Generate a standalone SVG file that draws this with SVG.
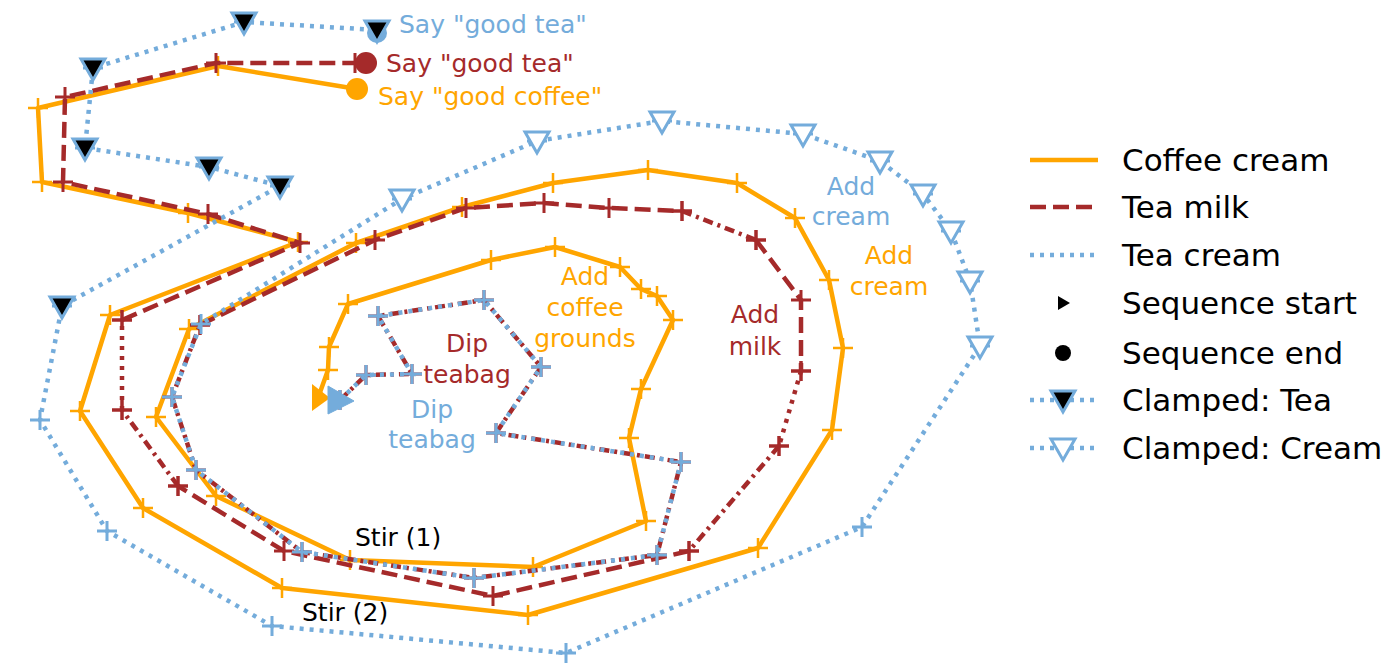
<svg xmlns="http://www.w3.org/2000/svg" width="1400" height="672" viewBox="0 0 1400 672">
<style>
text{font-family:"DejaVu Sans",sans-serif;font-size:25px}
.lg{font-size:31px;fill:#000}
.cof{fill:none;stroke:#FFA500;stroke-width:4.5;stroke-linejoin:round}
.tm{fill:none;stroke:#A52A2A;stroke-width:4.5}
.tc{fill:none;stroke:#74ACDB;stroke-width:4.5;stroke-dasharray:4 6}
.dash{stroke-dasharray:16 7}
.dot{stroke-dasharray:4 6}
.dd{stroke-dasharray:10 5 3 5}
.o{fill:#FFA500}.r{fill:#A52A2A}.b{fill:#74ACDB}
</style>
<defs>
<marker id="po" markerUnits="userSpaceOnUse" markerWidth="24" markerHeight="24" refX="12" refY="12" overflow="visible"><path d="M2,12H22M12,2V22" stroke="#FFA500" stroke-width="2.5"/></marker>
<marker id="pr" markerUnits="userSpaceOnUse" markerWidth="24" markerHeight="24" refX="12" refY="12" overflow="visible"><path d="M2,12H22M12,2V22" stroke="#A52A2A" stroke-width="3"/></marker>
<marker id="pb" markerUnits="userSpaceOnUse" markerWidth="24" markerHeight="24" refX="12" refY="12" overflow="visible"><path d="M2,12H22M12,2V22" stroke="#74ACDB" stroke-width="3"/></marker>
<path id="tf" d="M-12,-9H12L0,12Z" fill="#000" stroke="#74ACDB" stroke-width="3"/>
<path id="th" d="M-12,-9H12L0,12Z" fill="#fff" stroke="#74ACDB" stroke-width="3"/>
</defs>
<g id="connectors">
<polyline class="cof" marker-mid="url(#po)" points="318,398 328,370 329,347 348,304 491,260 555,247 620,267 641,289 657,296 673,320 641,389 629,438 646,521 533,567 350,560 216,496 156,417 189,329 356,243 462,207 553,183 648,170 737,183 795,218 829,280 843,348 832,430 758,548 528,615 282,588 143,508 80,411 110,315 298,242 188,213 42,182 38,108 218,66 357,89"/>
<g marker-start="url(#pr)" marker-mid="url(#pr)" marker-end="url(#pr)">
<polyline class="tm dd" points="340,400 366,375 412,374 378,316 484,300 541,367 496,433 681,462 657,555 474,578 302,552 196,470 172,397 200,325"/>
<polyline class="tm dash" points="200,325 375,240 466,208 544,203 609,208 682,211"/>
<polyline class="tm dd" points="682,211 756,240"/>
<polyline class="tm dash" points="756,240 801,300 801,371"/>
<polyline class="tm dot" points="801,371 779,446"/>
<polyline class="tm dd" points="779,446 689,551"/>
<polyline class="tm dash" points="689,551 493,596 284,551 178,486"/>
<polyline class="tm dd" points="178,486 122,410"/>
<polyline class="tm dot" points="122,410 122,320"/>
<polyline class="tm dash" points="122,320 300,243 208,214 63,182 65,97 216,63 355,63"/>
</g>
<polyline class="tc" marker-start="url(#pb)" marker-mid="url(#pb)" points="340,400 366,375 412,374 378,316 484,300 541,367 496,433 681,462 657,555 474,578 302,552 196,470 172,397 201,324 402,199 537,141 662,121 803,134 880,161 923,194 951,231 970,281 980,346 862,527 566,653 272,626 107,531 40,420 62,306 280,186 209,167 85,148 93,68 244,22 377,30"/>
</g>
<g id="markers">
<path class="o" d="M312,384L330,398L312,411Z"/>
<path class="b" d="M328,386L354,401L328,414Z" stroke="#74ACDB"/>
<circle class="o" cx="357" cy="89" r="11"/>
<circle class="r" cx="366" cy="63" r="11"/>
<circle class="b" cx="377" cy="33" r="10"/>
<use href="#tf" x="377" y="30"/><use href="#tf" x="244" y="22"/><use href="#tf" x="93" y="68"/><use href="#tf" x="85" y="148"/><use href="#tf" x="209" y="167"/><use href="#tf" x="280" y="186"/><use href="#tf" x="62" y="306"/>
<use href="#th" x="402" y="199"/><use href="#th" x="537" y="141"/><use href="#th" x="662" y="121"/><use href="#th" x="803" y="134"/><use href="#th" x="880" y="161"/><use href="#th" x="923" y="194"/><use href="#th" x="951" y="231"/><use href="#th" x="970" y="281"/><use href="#th" x="980" y="346"/>
</g>
<g id="labels">
<text x="399" y="33" class="b">Say "good tea"</text>
<text x="386" y="72" class="r">Say "good tea"</text>
<text x="378" y="105" class="o">Say "good coffee"</text>
<text class="b" text-anchor="middle"><tspan x="851" y="195">Add</tspan><tspan x="851" y="225">cream</tspan></text>
<text class="o" text-anchor="middle"><tspan x="889" y="264">Add</tspan><tspan x="889" y="295">cream</tspan></text>
<text class="r" text-anchor="middle"><tspan x="755" y="323">Add</tspan><tspan x="755" y="355">milk</tspan></text>
<text class="o" text-anchor="middle"><tspan x="585" y="285">Add</tspan><tspan x="585" y="316">coffee</tspan><tspan x="585" y="347">grounds</tspan></text>
<text class="r" text-anchor="middle"><tspan x="467" y="352">Dip</tspan><tspan x="467" y="383">teabag</tspan></text>
<text class="b" text-anchor="middle"><tspan x="432" y="418">Dip</tspan><tspan x="432" y="448">teabag</tspan></text>
<text x="355" y="546">Stir (1)</text>
<text x="302" y="621">Stir (2)</text>
</g>
<g id="legend">
<line x1="1030" y1="160" x2="1098" y2="160" stroke="#FFA500" stroke-width="4.5"/>
<line x1="1030" y1="207" x2="1098" y2="207" class="tm dash"/>
<line x1="1030" y1="255" x2="1098" y2="255" class="tc"/>
<path d="M1058,296L1070,303L1058,310Z"/>
<circle cx="1063" cy="353" r="8"/>
<line x1="1030" y1="400" x2="1098" y2="400" class="tc"/>
<use href="#tf" x="1063" y="400"/>
<line x1="1030" y1="448" x2="1098" y2="448" class="tc"/>
<use href="#th" x="1063" y="448"/>
<text class="lg" x="1122" y="171">Coffee cream</text>
<text class="lg" x="1122" y="218">Tea milk</text>
<text class="lg" x="1122" y="266">Tea cream</text>
<text class="lg" x="1122" y="314">Sequence start</text>
<text class="lg" x="1122" y="364">Sequence end</text>
<text class="lg" x="1122" y="411">Clamped: Tea</text>
<text class="lg" x="1122" y="459">Clamped: Cream</text>
</g>
</svg>
